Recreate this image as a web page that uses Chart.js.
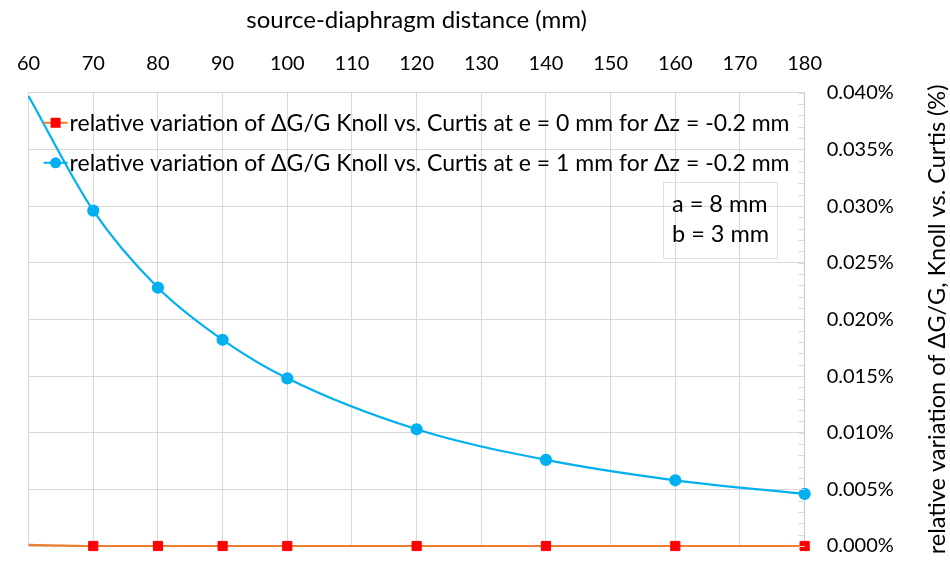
<!DOCTYPE html>
<html>
<head>
<meta charset="utf-8">
<script src="https://cdn.jsdelivr.net/npm/chart.js@4.4.0/dist/chart.umd.min.js"></script>
<style>
  html, body { margin: 0; padding: 0; background: #fff; }
  #wrap { width: 950px; height: 580px; }
</style>
</head>
<body>
<div id="wrap"><canvas id="chart"></canvas></div>
<script>
// source-diaphragm distance (mm)
const distances = [60, 70, 80, 90, 100, 120, 140, 160, 180];
// relative variation of dG/G, in %
const variationE0 = [0.0001, 0, 0, 0, 0, 0, 0, 0, 0];
const variationE1 = [0.0397, 0.0296, 0.0228, 0.0182, 0.0148, 0.0103, 0.0076, 0.0058, 0.0046];

const seriesNames = [
  "relative variation of ΔG/G Knoll vs. Curtis at e = 0 mm for Δz = -0.2 mm",
  "relative variation of ΔG/G Knoll vs. Curtis at e = 1 mm for Δz = -0.2 mm"
];
const xTitle = "source-diaphragm distance (mm)";
const yTitle = "relative variation of ΔG/G, Knoll vs. Curtis (%)";
const noteLines = ["a = 8 mm", "b = 3 mm"];

const FONT = 'Lato, "Open Sans", sans-serif';
const GRID = "#d9d9d9";

function toPoints(values) {
  return distances.map((d, i) => ({ x: d, y: values[i] }));
}

// legend, note box, minor ticks and rotated y title
const extras = {
  id: "extras",
  afterDatasetsDraw(chart) {
    const { ctx, chartArea, scales } = chart;
    const x = scales.x, y = scales.y;

    // minor ticks, inside the right axis
    ctx.save();
    ctx.strokeStyle = GRID;
    ctx.lineWidth = 1;
    for (let v = 0; v <= 0.0401; v += 0.001) {
      const py = Math.round(y.getPixelForValue(v)) + 0.5;
      ctx.beginPath();
      ctx.moveTo(chartArea.right - 6, py);
      ctx.lineTo(chartArea.right, py);
      ctx.stroke();
    }
    ctx.restore();

    // legend
    ctx.save();
    ctx.font = "23px " + FONT;
    ctx.textBaseline = "middle";
    const rows = [chartArea.top + 30, chartArea.top + 70];
    chart.data.datasets.forEach((ds, i) => {
      const ry = rows[i];
      const lx = chartArea.left + 15;
      ctx.strokeStyle = ds.borderColor;
      ctx.lineWidth = 2;
      ctx.beginPath();
      ctx.moveTo(lx, ry);
      ctx.lineTo(lx + 24, ry);
      ctx.stroke();
      ctx.fillStyle = ds.pointBackgroundColor;
      if (ds.pointStyle === "rect") {
        ctx.fillRect(lx + 7, ry - 5, 10, 10);
      } else {
        ctx.beginPath();
        ctx.arc(lx + 12, ry, 5.5, 0, Math.PI * 2);
        ctx.fill();
      }
      ctx.fillStyle = "#000";
      ctx.fillText(seriesNames[i], lx + 26, ry + 1);
    });
    ctx.restore();

    // note box a / b
    ctx.save();
    const bx1 = x.getPixelForValue(158.1), bx2 = x.getPixelForValue(175.8);
    const by1 = y.getPixelForValue(0.0321), by2 = y.getPixelForValue(0.0254);
    ctx.strokeStyle = "#e0e0e0";
    ctx.lineWidth = 1;
    ctx.strokeRect(Math.round(bx1) + 0.5, Math.round(by1) + 0.5, Math.round(bx2 - bx1), Math.round(by2 - by1));
    ctx.fillStyle = "#000";
    ctx.font = "23.5px " + FONT;
    ctx.textBaseline = "middle";
    ctx.fillText(noteLines[0], bx1 + 9, by1 + 22);
    ctx.fillText(noteLines[1], bx1 + 9, by1 + 52);
    ctx.restore();

    // y title, reading bottom to top
    ctx.save();
    ctx.translate(y.right - 13, (chartArea.top + chartArea.bottom) / 2);
    ctx.rotate(-Math.PI / 2);
    ctx.font = "23.5px " + FONT;
    ctx.fillStyle = "#000";
    ctx.textAlign = "center";
    ctx.textBaseline = "middle";
    ctx.fillText(yTitle, 0, 0);
    ctx.restore();
  }
};

const ctx = document.getElementById("chart").getContext("2d");
new Chart(ctx, {
  type: "line",
  data: {
    datasets: [
      {
        label: seriesNames[0],
        data: toPoints(variationE0),
        borderColor: "#ED7D31",
        borderWidth: 2.2,
        pointStyle: "rect",
        pointBackgroundColor: "#FF0000",
        pointBorderColor: "#FF0000",
        pointBorderWidth: 1,
        pointRadius: c => c.dataIndex === 0 ? 0 : 6.5,
        cubicInterpolationMode: "monotone",
        clip: false
      },
      {
        label: seriesNames[1],
        data: toPoints(variationE1),
        borderColor: "#00B0F0",
        borderWidth: 2.2,
        pointStyle: "circle",
        pointBackgroundColor: "#00B0F0",
        pointBorderColor: "#00B0F0",
        pointRadius: c => c.dataIndex === 0 ? 0 : 5,
        cubicInterpolationMode: "monotone",
        clip: false
      }
    ]
  },
  options: {
    responsive: true,
    maintainAspectRatio: false,
    animation: false,
    layout: { padding: { left: 14, top: 6, right: 0, bottom: 0 } },
    plugins: {
      legend: { display: false },
      tooltip: { enabled: false }
    },
    scales: {
      x: {
        type: "linear",
        position: "top",
        min: 60,
        max: 180,
        ticks: { stepSize: 10, padding: 17, color: "#000", font: { family: FONT, size: 20 } },
        grid: { color: GRID, drawTicks: false },
        border: { color: GRID },
        title: { display: true, text: xTitle, color: "#000", font: { family: FONT, size: 24 }, padding: { top: 0, bottom: 0 } }
      },
      y: {
        position: "right",
        min: 0,
        max: 0.04,
        ticks: {
          stepSize: 0.005,
          padding: 22,
          color: "#000",
          font: { family: FONT, size: 20 },
          callback: v => v.toFixed(3) + "%"
        },
        grid: { color: GRID, drawTicks: false },
        border: { color: "#c8c8c8" },
        title: { display: true, text: yTitle, color: "transparent", font: { family: FONT, size: 23.5 }, padding: { top: 0, bottom: 6 } }
      }
    }
  },
  plugins: [extras]
});
</script>
</body>
</html>
